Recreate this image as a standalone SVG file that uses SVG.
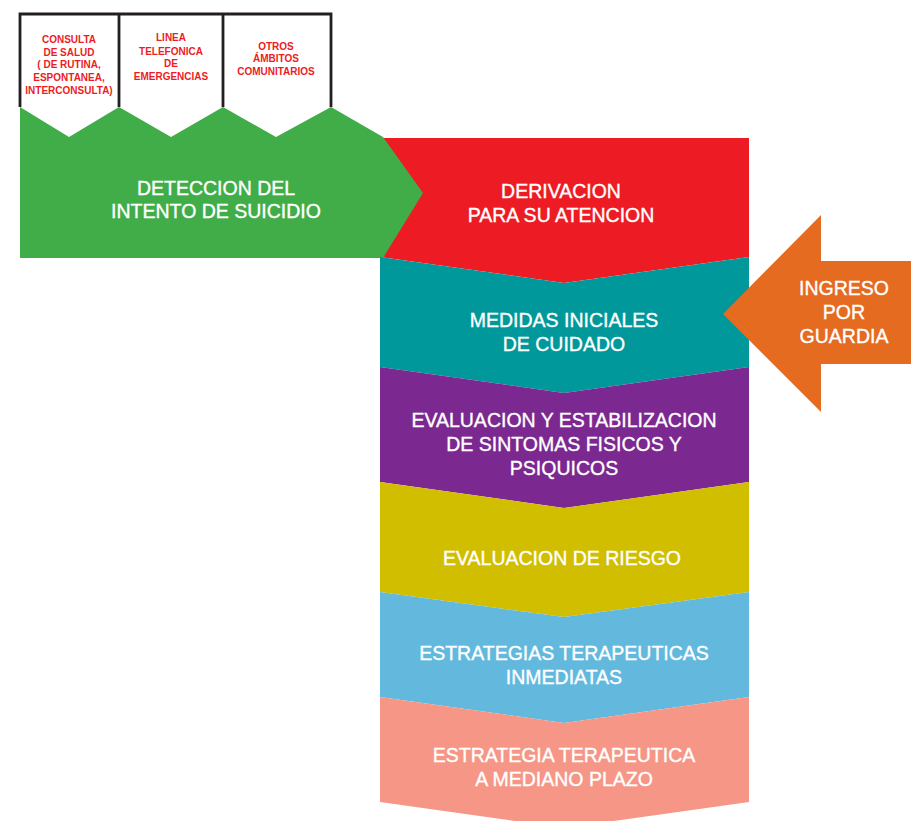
<svg xmlns="http://www.w3.org/2000/svg" width="911" height="821" viewBox="0 0 911 821">
<style>
.t{font-family:"Liberation Sans",Arial,sans-serif;font-size:19.5px;fill:#fff;stroke:#fff;stroke-width:0.35;text-anchor:middle}
.s{font-family:"Liberation Sans",Arial,sans-serif;font-size:10px;font-weight:bold;fill:#ED1C24;text-anchor:middle}
.src{fill:#fff}
.frame{fill:none;stroke:#231F20;stroke-width:2.8}
</style>
<rect width="911" height="821" fill="#fff"/>
<g id="sources">
  <g id="src-consulta">
    <path class="src" d="M20,14 H119 V107 L69,137 L20,107 Z"/>
    <text class="s"><tspan x="69" y="43">CONSULTA</tspan><tspan x="69" y="55.7">DE SALUD</tspan><tspan x="69" y="68.3">( DE RUTINA,</tspan><tspan x="69" y="81">ESPONTANEA,</tspan><tspan x="69" y="93.6">INTERCONSULTA)</tspan></text>
  </g>
  <g id="src-linea">
    <path class="src" d="M119,14 H223 V107 L171,137 L119,107 Z"/>
    <text class="s"><tspan x="171" y="41.3">LINEA</tspan><tspan x="171" y="54.7">TELEFONICA</tspan><tspan x="171" y="67.3">DE</tspan><tspan x="171" y="79.7">EMERGENCIAS</tspan></text>
  </g>
  <g id="src-otros">
    <path class="src" d="M223,14 H331 V107 L276,137 L223,107 Z"/>
    <text class="s"><tspan x="276" y="49.7">OTROS</tspan><tspan x="276" y="62.3">ÁMBITOS</tspan><tspan x="276" y="74.7">COMUNITARIOS</tspan></text>
  </g>
  <path class="frame" d="M20,107 V14 H331 V107 M119,14 V107 M223,14 V107"/>
</g>
<g id="steps">
  <g id="derivacion">
    <path fill="#ED1C24" d="M380,138 H749 V257 L564,283 L380,257 Z"/>
    <text class="t"><tspan x="561" y="198">DERIVACION</tspan><tspan x="561" y="222">PARA SU ATENCION</tspan></text>
  </g>
  <g id="deteccion">
    <path fill="#41AD49" d="M20,107 L69,137 L119,107 L171,137 L223,107 L276,137 L331,107 L383,137 L423,193 L383,258 L20,258 Z"/>
    <text class="t"><tspan x="216" y="195">DETECCION DEL</tspan><tspan x="216" y="218">INTENTO DE SUICIDIO</tspan></text>
  </g>
  <g id="medidas">
    <path fill="#00989A" d="M380,257 L564,283 L749,257 V367 L564,393 L380,367 Z"/>
    <text class="t"><tspan x="564" y="327">MEDIDAS INICIALES</tspan><tspan x="564" y="351">DE CUIDADO</tspan></text>
  </g>
  <g id="evaluacion-estabilizacion">
    <path fill="#7B2890" d="M380,367 L564,393 L749,367 V482 L564,508 L380,482 Z"/>
    <text class="t"><tspan x="564" y="427">EVALUACION Y ESTABILIZACION</tspan><tspan x="564" y="451">DE SINTOMAS FISICOS Y</tspan><tspan x="564" y="475">PSIQUICOS</tspan></text>
  </g>
  <g id="evaluacion-riesgo">
    <path fill="#D1BE00" d="M380,482 L564,508 L749,482 V592 L564,617 L380,592 Z"/>
    <text class="t"><tspan x="562" y="565">EVALUACION DE RIESGO</tspan></text>
  </g>
  <g id="estrategias-inmediatas">
    <path fill="#62B9DD" d="M380,592 L564,617 L749,592 V697 L564,723 L380,697 Z"/>
    <text class="t"><tspan x="564" y="660">ESTRATEGIAS TERAPEUTICAS</tspan><tspan x="564" y="684">INMEDIATAS</tspan></text>
  </g>
  <g id="estrategia-mediano">
    <path fill="#F59686" d="M380,697 L564,723 L749,697 V802 L564,828 L380,802 Z"/>
    <text class="t"><tspan x="564" y="762">ESTRATEGIA TERAPEUTICA</tspan><tspan x="564" y="786">A MEDIANO PLAZO</tspan></text>
  </g>
</g>
<g id="ingreso">
  <path fill="#E56B21" d="M723,314 L821,215 V261 H911 V364 H821 V412 Z"/>
  <text class="t"><tspan x="844" y="295">INGRESO</tspan><tspan x="844" y="319">POR</tspan><tspan x="844" y="343">GUARDIA</tspan></text>
</g>
<g id="connectors"></g>
</svg>
